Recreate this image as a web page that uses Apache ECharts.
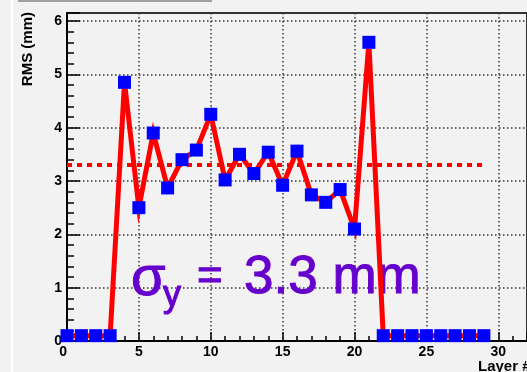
<!DOCTYPE html>
<html>
<head>
<meta charset="utf-8">
<script src="https://cdn.jsdelivr.net/npm/echarts@6/dist/echarts.min.js"></script>
<style>
  html, body { margin: 0; padding: 0; background: #f2f2f2; }
  #chart { width: 527px; height: 372px; }
</style>
</head>
<body>
<div id="chart"></div>
<script>
// RMS per layer
var layers = [0, 1, 2, 3, 4, 5, 6, 7, 8, 9, 10, 11, 12, 13, 14, 15, 16, 17, 18, 19, 20, 21, 22, 23, 24, 25, 26, 27, 28, 29];
var rmsValues = [0.1, 0.1, 0.1, 0.1, 4.85, 2.5, 3.9, 2.87, 3.4, 3.58, 4.25, 3.02, 3.5, 3.14, 3.54, 2.92, 3.56, 2.74, 2.6, 2.84, 2.1, 5.6, 0.1, 0.1, 0.1, 0.1, 0.1, 0.1, 0.1, 0.1];
var meanRms = 3.3;
var meanRange = [0, 28.9];

var chart = echarts.init(document.getElementById('chart'));

var pts = layers.map(function (l, i) { return [l, rmsValues[i]]; });
var meanPts = meanRange.map(function (x) { return [x, meanRms]; });

// ROOT style dotted grid
var dotted = { color: '#333', width: 1.5, type: [1.5, 2.5] };

var option = {
  backgroundColor: '#f2f2f2',
  animation: false,
  grid: {
    left: 67, top: 13, width: 466, height: 328,
    show: true, borderColor: '#333', borderWidth: 2, backgroundColor: 'transparent'
  },
  xAxis: {
    type: 'value', min: 0, max: 32, interval: 5,
    axisLine: { lineStyle: { color: '#000', width: 2 } },
    axisTick: { inside: true, length: 9, lineStyle: { color: '#000', width: 1.5 } },
    minorTick: { show: true, splitNumber: 5, length: 5, lineStyle: { color: '#000', width: 1.5 } },
    splitLine: { show: true, lineStyle: dotted },
    axisLabel: {
      margin: 4, color: '#000', fontWeight: 'bold', fontSize: 14,
      fontFamily: 'Liberation Sans', showMaxLabel: false, alignMinLabel: 'right'
    }
  },
  yAxis: {
    type: 'value', min: 0, max: 6.15, interval: 1,
    axisLine: { lineStyle: { color: '#000', width: 2 } },
    axisTick: { inside: true, length: 13, lineStyle: { color: '#000', width: 1.5 } },
    minorTick: { show: true, splitNumber: 5, length: 7, lineStyle: { color: '#000', width: 1.5 } },
    splitLine: { show: true, lineStyle: dotted },
    axisLabel: {
      margin: 5, color: '#000', fontWeight: 'bold', fontSize: 14,
      fontFamily: 'Liberation Sans', showMaxLabel: false
    }
  },
  graphic: [
    { type: 'rect', shape: { x: 11, y: 0, width: 2, height: 372 }, style: { fill: '#fff' }, z: 0 },
    { type: 'rect', shape: { x: 18, y: 0, width: 194, height: 2 }, style: { fill: '#a0a0a0' }, z: 0 },
    {
      type: 'text', x: 28, y: 12, rotation: Math.PI / 2, z: 1,
      style: { text: 'RMS (mm)', fill: '#000', font: 'bold 15px "Liberation Sans"', align: 'right', verticalAlign: 'middle' }
    },
    {
      type: 'text', x: 478, y: 359, z: 1,
      style: { text: 'Layer #', fill: '#000', font: 'bold 15px "Liberation Sans"', align: 'left', verticalAlign: 'top' }
    },
    {
      type: 'text', x: 131, y: 280, z: 1,
      style: { text: 'σ', fill: '#6600cc', font: '56px "Liberation Sans"', align: 'left', verticalAlign: 'middle', stroke: '#6600cc', lineWidth: 1 }
    },
    {
      type: 'text', x: 163, y: 296, z: 1,
      style: { text: 'y', fill: '#6600cc', font: '36px "Liberation Sans"', align: 'left', verticalAlign: 'middle', stroke: '#6600cc', lineWidth: 1 }
    },
    {
      type: 'text', x: 197, y: 278, z: 1,
      style: { text: '=', fill: '#6600cc', font: '44px "Liberation Sans"', align: 'left', verticalAlign: 'middle', stroke: '#6600cc', lineWidth: 1 }
    },
    {
      type: 'text', x: 244, y: 278, z: 1,
      style: { text: '3.3 mm', fill: '#6600cc', font: '53px "Liberation Sans"', align: 'left', verticalAlign: 'middle', stroke: '#6600cc', lineWidth: 1 }
    }
  ],
  series: [
    {
      name: 'mean', type: 'line', data: meanPts, symbol: 'none', z: 2,
      lineStyle: { color: '#ff0000', width: 4, type: [5, 5], cap: 'butt' }
    },
    {
      name: 'RMS', type: 'line', data: pts, z: 3,
      symbol: 'rect', symbolSize: 13,
      itemStyle: { color: '#0000ff' },
      lineStyle: { color: '#ff0000', width: 5, join: 'miter' },
      clip: false
    }
  ]
};

chart.setOption(option);
</script>
</body>
</html>
